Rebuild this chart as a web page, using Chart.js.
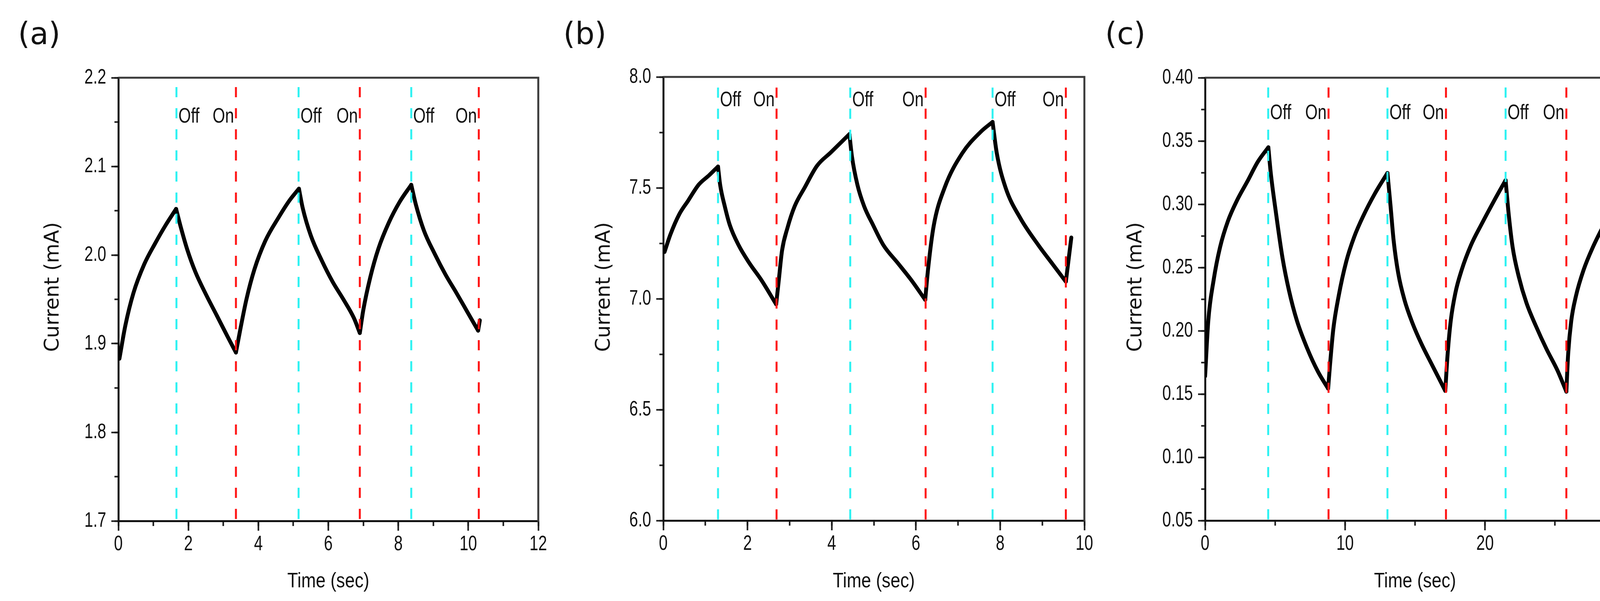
<!DOCTYPE html>
<html>
<head>
<meta charset="utf-8">
<script src="https://cdn.jsdelivr.net/npm/chart.js@4.4.1/dist/chart.umd.min.js"></script>
<style>
  html, body { margin: 0; padding: 0; background: #fff; }
  body { width: 4222px; height: 1539px; position: relative; overflow: hidden; }
  canvas { position: absolute; top: 0; }
</style>
</head>
<body>
<canvas id="panelA" width="1420" height="1539" style="left:0px"></canvas>
<canvas id="panelB" width="1420" height="1539" style="left:1400px"></canvas>
<canvas id="panelC" width="1422" height="1539" style="left:2800px"></canvas>
<script>
// ---- panel (a) ----
const timeA = [0.03, 0.20, 0.43, 0.74, 1.05, 1.35, 1.65, 1.78, 1.97, 2.20, 2.51, 2.81, 3.12, 3.36,
  3.47, 3.66, 3.89, 4.20, 4.58, 4.89, 5.16, 5.27, 5.50, 5.81, 6.12, 6.43, 6.73, 6.90,
  7.00, 7.20, 7.43, 7.73, 8.04, 8.37, 8.50, 8.73, 9.04, 9.35, 9.66, 9.96, 10.28, 10.33];
const currentA = [1.883, 1.9205, 1.957, 1.9896, 2.013, 2.0336, 2.052, 2.032, 2.006, 1.981, 1.955, 1.932, 1.908, 1.890,
  1.913, 1.950, 1.984, 2.016, 2.0424, 2.0615, 2.0748, 2.0527, 2.0219, 1.994, 1.970, 1.950, 1.929, 1.912,
  1.938, 1.975, 2.007, 2.0366, 2.060, 2.0792, 2.0571, 2.0278, 2.0013, 1.9778, 1.9573, 1.9367, 1.9147, 1.9264];
const offA = [1.66, 5.15, 8.37];
const onA = [3.36, 6.90, 10.30];

// ---- panel (b) ----
const timeB = [0.03, 0.17, 0.38, 0.59, 0.84, 1.09, 1.30, 1.35, 1.46, 1.58, 1.79, 2.04, 2.33, 2.68,
  2.74, 2.82, 2.95, 3.12, 3.36, 3.65, 3.98, 4.42, 4.48, 4.61, 4.77, 4.98, 5.23, 5.56, 5.89, 6.22,
  6.29, 6.42, 6.68, 7.10, 7.53, 7.82, 7.92, 8.13, 8.48, 8.91, 9.25, 9.56, 9.69];
const currentB = [7.211, 7.290, 7.381, 7.442, 7.514, 7.557, 7.596, 7.514, 7.417, 7.332, 7.241, 7.162, 7.084, 6.975,
  7.078, 7.217, 7.320, 7.417, 7.502, 7.599, 7.660, 7.742, 7.642, 7.514, 7.417, 7.333, 7.241, 7.163, 7.084, 6.995,
  7.137, 7.327, 7.500, 7.656, 7.751, 7.797, 7.656, 7.500, 7.363, 7.241, 7.155, 7.077, 7.276];
const offB = [1.30, 4.44, 7.82];
const onB = [2.69, 6.23, 9.56];

// ---- panel (c) ----
const timeC = [0.00, 0.23, 0.61, 1.07, 1.63, 2.28, 3.02, 3.77, 4.52, 4.69, 5.06, 5.53, 6.00, 6.56, 7.30, 8.05, 8.79,
  8.93, 9.16, 9.54, 10.09, 10.65, 11.30, 12.14, 13.03, 13.25, 13.47, 13.80, 14.24, 14.80, 15.46, 16.23, 17.16,
  17.33, 17.55, 17.88, 18.33, 18.99, 19.76, 20.64, 21.47, 21.69, 21.97, 22.41, 22.96, 23.63, 24.39, 25.17, 25.81,
  25.94, 26.16, 26.49, 27.04, 27.71, 28.70];
const currentC = [0.164, 0.208, 0.240, 0.266, 0.2866, 0.303, 0.318, 0.3336, 0.345, 0.325, 0.2935, 0.2577, 0.2315, 0.208, 0.186, 0.168, 0.1543,
  0.1736, 0.2012, 0.2273, 0.2549, 0.2741, 0.2907, 0.3086, 0.3247, 0.2987, 0.2714, 0.2454, 0.2246, 0.2065, 0.1896, 0.1727, 0.1525,
  0.1818, 0.2078, 0.2298, 0.248, 0.2675, 0.2844, 0.3026, 0.319, 0.2922, 0.2662, 0.2428, 0.222, 0.2039, 0.1856, 0.1688, 0.1519,
  0.1818, 0.2078, 0.2272, 0.248, 0.2662, 0.2883];
const offC = [4.51, 13.03, 21.47];
const onC = [8.82, 17.21, 25.81];

const SANS = "'Liberation Sans', Arial, sans-serif";
const WIDE = "'DejaVu Sans', Verdana, sans-serif";
const CYAN = '#2ef2f2';
const RED = '#ff1414';
const INK = '#111';

// split the curve where it changes direction so each piece stays monotone
function splitCurve(times, values) {
  const pieces = [];
  let cur = [{x: times[0], y: values[0]}];
  let dir = 0;
  for (let i = 1; i < times.length; i++) {
    const d = Math.sign(values[i] - values[i - 1]);
    if (dir !== 0 && d !== dir) {
      pieces.push(cur);
      cur = [{x: times[i - 1], y: values[i - 1]}];
    }
    cur.push({x: times[i], y: values[i]});
    dir = d;
  }
  pieces.push(cur);
  return pieces;
}

// the original figure uses a condensed face, so squeeze the text horizontally
function narrowText(ctx, text, x, y, align, squeeze) {
  ctx.save();
  ctx.translate(x, y);
  ctx.scale(squeeze, 1);
  ctx.textAlign = align;
  ctx.fillText(text, 0, 0);
  ctx.restore();
}

const panelText = {
  id: 'panelText',
  afterDraw(chart, args, o) {
    const ctx = chart.ctx;
    const area = chart.chartArea;
    const xs = chart.scales.x, ys = chart.scales.y;
    ctx.save();

    // top and right frame
    ctx.strokeStyle = '#3a3a3a';
    ctx.lineWidth = 5;
    ctx.beginPath();
    ctx.moveTo(area.left, area.top);
    ctx.lineTo(area.right, area.top);
    ctx.lineTo(area.right, area.bottom + 2);
    ctx.stroke();

    ctx.fillStyle = INK;
    ctx.textBaseline = 'middle';

    // tick labels
    ctx.font = '53px ' + SANS;
    xs.ticks.forEach(t => narrowText(ctx, String(Math.round(t.value)),
      xs.getPixelForValue(t.value), area.bottom + 60, 'center', 0.76));
    ys.ticks.forEach(t => narrowText(ctx, t.value.toFixed(o.yDec),
      area.left - 31, ys.getPixelForValue(t.value), 'right', 0.76));

    // x title
    ctx.font = '54px ' + SANS;
    narrowText(ctx, 'Time (sec)', (area.left + area.right) / 2, 1489, 'center', 0.83);

    // Off / On labels next to the switching lines
    const ly = ys.getPixelForValue(o.labelY);
    o.off.forEach(t => narrowText(ctx, 'Off', xs.getPixelForValue(t) + 5, ly, 'left', 0.76));
    o.on.forEach(t => narrowText(ctx, 'On', xs.getPixelForValue(t) - 5, ly, 'right', 0.76));

    // y title
    ctx.save();
    ctx.translate(o.yTitleX, 735);
    ctx.rotate(-Math.PI / 2);
    ctx.textAlign = 'center';
    ctx.font = '51px ' + WIDE;
    ctx.fillText('Current (mA)', 0, 0);
    ctx.restore();

    // panel letter
    ctx.font = '78px ' + WIDE;
    ctx.textAlign = 'left';
    ctx.textBaseline = 'alphabetic';
    ctx.fillText(o.letter, o.letterX, 113);
    ctx.restore();
  }
};

function noPad(s) {
  s.paddingLeft = 0; s.paddingRight = 0; s.paddingTop = 0; s.paddingBottom = 0;
}

function makePanel(id, p) {
  const datasets = [];
  p.off.forEach(t => datasets.push({
    data: [{x: t, y: p.markTop}, {x: t, y: p.yMin}],
    borderColor: CYAN, borderWidth: 5, borderDash: [26, 28], pointRadius: 0, order: 0
  }));
  p.on.forEach(t => datasets.push({
    data: [{x: t, y: p.markTop}, {x: t, y: p.yMin}],
    borderColor: RED, borderWidth: 5, borderDash: [26, 28], pointRadius: 0, order: 0
  }));
  splitCurve(p.time, p.current).forEach(seg => datasets.push({
    data: seg, borderColor: '#000', borderWidth: 10, pointRadius: 0,
    cubicInterpolationMode: 'monotone', borderCapStyle: 'round', order: 1
  }));

  const canvas = document.getElementById(id);
  new Chart(canvas, {
    type: 'line',
    data: {datasets},
    plugins: [panelText],
    options: {
      responsive: false,
      animation: false,
      devicePixelRatio: 1,
      layout: {padding: {left: 0, right: canvas.width - p.right, top: p.top, bottom: 0}},
      plugins: {
        legend: {display: false},
        tooltip: {enabled: false},
        panelText: {letter: p.letter, letterX: p.letterX, yTitleX: p.yTitleX, yDec: p.yDec,
                    labelY: p.labelY, off: p.off, on: p.on}
      },
      scales: {
        x: {
          type: 'linear', position: 'bottom', min: p.xMin, max: p.xMax,
          ticks: {display: false, stepSize: p.xStep, autoSkip: false, maxTicksLimit: 100},
          grid: {drawOnChartArea: false, drawTicks: true, tickLength: 25, tickWidth: 4, tickColor: '#1a1a1a'},
          border: {display: true, color: INK, width: 5},
          afterFit: s => { s.height = 1539 - p.bottom; noPad(s); }
        },
        y: {
          type: 'linear', position: 'left', min: p.yMin, max: p.yMax,
          ticks: {display: false, stepSize: p.yStep, autoSkip: false, maxTicksLimit: 100},
          grid: {drawOnChartArea: false, drawTicks: true, tickLength: 18, tickWidth: 4, tickColor: '#1a1a1a'},
          border: {display: true, color: INK, width: 5},
          afterFit: s => { s.width = p.left; noPad(s); }
        },
        xm: {
          type: 'linear', position: {y: p.yMin}, min: p.xMin, max: p.xMax,
          ticks: {display: false, stepSize: p.xMinor, maxTicksLimit: 100},
          grid: {drawOnChartArea: false, drawTicks: true, tickLength: 13, tickWidth: 4, tickColor: '#1a1a1a'},
          border: {display: false},
          afterFit: noPad
        },
        ym: {
          type: 'linear', position: {x: p.xMin}, min: p.yMin, max: p.yMax,
          ticks: {display: false, stepSize: p.yMinor, maxTicksLimit: 100},
          grid: {drawOnChartArea: false, drawTicks: true, tickLength: 10, tickWidth: 4, tickColor: '#1a1a1a'},
          border: {display: false},
          afterFit: noPad
        }
      }
    }
  });
}

makePanel('panelA', {
  time: timeA, current: currentA, off: offA, on: onA,
  xMin: 0, xMax: 12, xStep: 2, xMinor: 1,
  yMin: 1.7, yMax: 2.2, yStep: 0.1, yMinor: 0.05, yDec: 1,
  markTop: 2.1894, labelY: 2.156,
  left: 303, right: 1378, top: 199, bottom: 1334,
  letter: '(a)', letterX: 46, yTitleX: 137
});

makePanel('panelB', {
  time: timeB, current: currentB, off: offB, on: onB,
  xMin: 0, xMax: 10, xStep: 2, xMinor: 1,
  yMin: 6.0, yMax: 8.0, yStep: 0.5, yMinor: 0.25, yDec: 1,
  markTop: 7.952, labelY: 7.894,
  left: 298, right: 1376, top: 197, bottom: 1333,
  letter: '(b)', letterX: 42, yTitleX: 148
});

makePanel('panelC', {
  time: timeC, current: currentC, off: offC, on: onC,
  xMin: 0, xMax: 30, xStep: 10, xMinor: 5,
  yMin: 0.05, yMax: 0.40, yStep: 0.05, yMinor: 0.025, yDec: 2,
  markTop: 0.3923, labelY: 0.372,
  left: 285, right: 1360, top: 199, bottom: 1333,
  letter: '(c)', letterX: 29, yTitleX: 109
});
</script>
</body>
</html>
